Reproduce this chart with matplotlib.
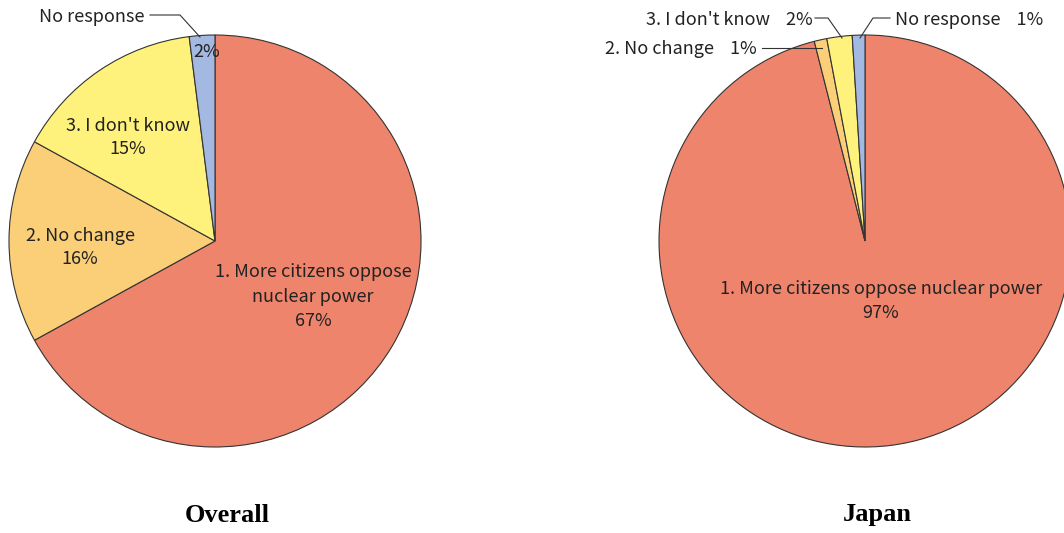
import matplotlib.pyplot as plt
from matplotlib.lines import Line2D

# dữ liệu
labels = ['1. More citizens oppose nuclear power', '2. No change', "3. I don't know", 'No response']
overall = [67, 16, 15, 2]
japan = [97, 1, 2, 1]
colors = ['#EF846C', '#FBCF78', '#FFF27C', '#A4B9E1']
titles = ['Overall', 'Japan']

W, H = 1064, 533
fig = plt.figure(figsize=(W / 100, H / 100), dpi=100)
plt.rcParams['font.family'] = ['Noto Sans CJK JP', 'DejaVu Sans']

R = 206
centers = [(215, 241), (865, 241)]


def fx(x):
    return x / W


def fy(y):
    return 1 - y / H


for (cx, cy), vals in zip(centers, [overall, japan]):
    ax = fig.add_axes([fx(cx - R), fy(cy + R), 2 * R / W, 2 * R / H])
    ax.pie(vals, colors=colors, startangle=90, counterclock=False,
           wedgeprops={'edgecolor': '#333333', 'linewidth': 0.8})
    ax.set_xlim(-1, 1)
    ax.set_ylim(-1, 1)
    ax.set_aspect('equal')
    ax.axis('off')

fs = 13


def txt(x, y, s, ha='center'):
    fig.text(fx(x), fy(y), s, ha=ha, va='center', fontsize=fs, color='#222222')


def line(xs, ys):
    fig.add_artist(Line2D([fx(v) for v in xs], [fy(v) for v in ys],
                          color='#333333', linewidth=0.8))


# nhãn biểu đồ trái
txt(92, 17, 'No response')
line([150, 180, 200], [15, 15, 37])
txt(207, 52, '2%')
txt(128, 126, "3. I don't know")
txt(128, 149, '15%')
txt(80, 236, '2. No change')
txt(80, 259, '16%')
txt(313, 272, '1. More citizens oppose')
txt(313, 297, 'nuclear power')
txt(313, 321, '67%')

# nhãn biểu đồ phải
txt(813, 20, "3. I don't know    2%", ha='right')
line([815, 828, 842], [18, 18, 38])
txt(895, 20, 'No response    1%', ha='left')
line([890, 873, 860], [18, 18, 38])
txt(757, 49, '2. No change    1%', ha='right')
line([762, 822], [48, 48])
txt(881, 289, '1. More citizens oppose nuclear power')
txt(881, 313, '97%')

for (cx, cy), t in zip(centers, titles):
    fig.text(fx(cx + 12), fy(515), t, ha='center', va='center',
             fontsize=19, fontweight='bold', family='Liberation Serif')

fig.savefig('out.png', dpi=100)
